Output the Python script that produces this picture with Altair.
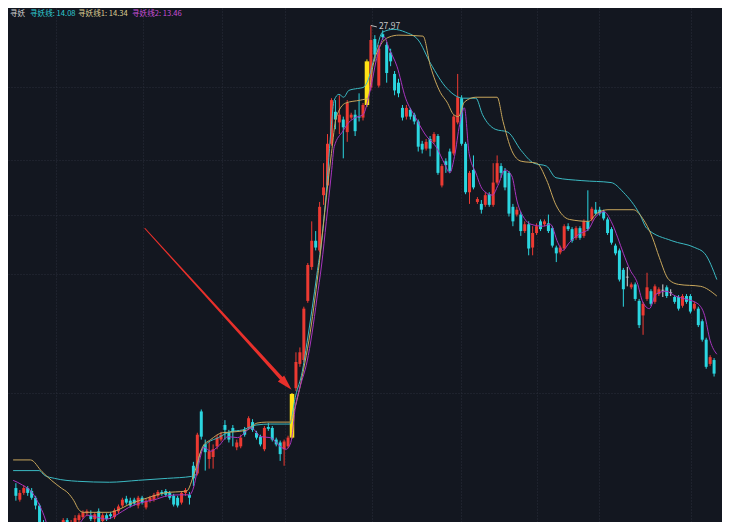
import altair as alt
import pandas as pd

# ---------------- candle data (price) ----------------
opens = [8.89, 8.41, 8.69, 8.89, 8.77, 8.49, 8.17, 7.49, 6.77, 6.89,
         6.61, 6.85, 7.25, 7.57, 7.29, 7.45, 7.57, 7.69, 7.85, 7.77,
         7.61, 7.93, 7.53, 7.77, 7.81, 7.69, 7.93, 8.17, 8.45, 8.37,
         8.41, 8.17, 8.49, 8.09, 8.37, 8.41, 8.57, 8.73, 8.77, 8.69,
         8.57, 8.49, 8.29, 8.69, 8.61, 9.81, 9.49, 12.05, 10.69, 10.09,
         10.17, 10.61, 10.89, 11.49, 11.17, 11.37, 10.57, 10.61, 11.29, 11.37,
         11.61, 11.17, 11.01, 10.49, 11.41, 11.37, 10.89, 10.77, 10.49, 10.61,
         10.97, 13.01, 14.01, 14.17, 16.61, 18.01, 19.09, 18.69, 20.97, 21.37,
         23.09, 24.41, 23.97, 24.09, 23.57, 24.17, 24.29, 24.21, 24.17, 24.69,
         25.41, 27.41, 25.49, 27.61, 27.17, 26.85, 25.97, 25.61, 24.57, 24.21,
         24.49, 24.29, 24.01, 23.09, 22.89, 23.29, 23.17, 23.41, 21.37, 22.37,
         22.77, 22.69, 23.97, 24.97, 23.09, 21.09, 22.01, 20.69, 20.61, 20.57,
         21.01, 20.57, 21.49, 22.17, 21.97, 21.89, 20.49, 20.17, 20.17, 19.49,
         19.77, 18.81, 19.41, 19.89, 19.77, 19.81, 19.61, 18.81, 18.61, 18.77,
         19.69, 19.57, 19.21, 19.61, 19.29, 19.89, 19.97, 20.37, 20.37, 20.29,
         19.97, 19.57, 18.89, 18.69, 17.89, 17.59, 17.17, 17.29, 16.61, 16.01,
         16.69, 17.01, 16.57, 16.89, 17.05, 17.17, 16.95, 16.77, 16.77, 16.41,
         16.81, 16.81, 16.29, 16.29, 15.77, 15.01, 14.01, 14.17]
closes = [8.57, 8.69, 8.89, 8.69, 8.49, 8.17, 7.49, 6.89, 7.01, 6.61,
          6.85, 7.17, 7.57, 7.33, 7.49, 7.65, 7.77, 7.89, 7.93, 7.61,
          7.81, 7.49, 7.77, 7.61, 7.73, 7.97, 8.13, 8.41, 8.29, 8.17,
          8.25, 8.49, 8.29, 8.37, 8.49, 8.61, 8.73, 8.65, 8.61, 8.49,
          8.21, 8.17, 8.69, 8.81, 8.49, 9.29, 11.09, 11.01, 10.37, 10.41,
          10.49, 10.97, 11.09, 11.29, 10.89, 11.21, 10.77, 10.97, 11.09, 11.77,
          11.29, 10.97, 10.69, 11.37, 11.33, 10.89, 10.69, 10.29, 10.81, 10.97,
          12.77, 14.09, 14.49, 16.29, 18.09, 19.09, 18.81, 20.49, 21.29, 23.09,
          24.89, 24.09, 24.29, 23.77, 24.77, 24.29, 23.61, 24.17, 24.69, 26.49,
          27.37, 26.77, 27.01, 27.49, 26.01, 26.49, 25.29, 25.17, 24.17, 24.57,
          24.21, 24.01, 22.97, 22.85, 23.17, 22.89, 23.49, 21.89, 22.17, 22.21,
          21.97, 24.21, 25.01, 23.09, 21.09, 21.89, 21.29, 20.81, 20.37, 20.97,
          20.57, 21.49, 22.29, 21.89, 21.29, 20.21, 19.89, 20.37, 19.49, 19.77,
          18.77, 19.41, 19.69, 19.57, 19.89, 19.49, 18.89, 18.57, 18.81, 19.69,
          19.57, 19.09, 19.61, 19.21, 19.89, 19.57, 20.41, 20.21, 20.21, 20.01,
          19.41, 19.01, 18.57, 17.49, 17.09, 17.59, 17.29, 16.69, 15.61, 16.49,
          17.17, 16.49, 17.21, 17.09, 17.05, 16.81, 16.95, 16.57, 16.29, 16.81,
          16.57, 16.17, 16.49, 15.61, 15.01, 13.89, 14.29, 13.61]
highs = [9.09, 8.81, 9.01, 8.97, 8.89, 8.57, 8.25, 7.57, 7.09, 6.97,
         6.93, 7.25, 7.65, 7.65, 7.57, 7.77, 7.85, 7.97, 8.01, 7.97,
         7.89, 8.05, 7.85, 7.85, 7.89, 8.05, 8.21, 8.49, 8.57, 8.49,
         8.49, 8.57, 8.57, 8.45, 8.57, 8.69, 8.81, 8.81, 8.85, 8.77,
         8.65, 8.57, 8.77, 8.89, 8.73, 9.97, 11.17, 12.13, 10.89, 10.81,
         10.69, 11.09, 11.21, 11.69, 11.29, 11.49, 10.89, 11.09, 11.41, 11.85,
         11.73, 11.25, 11.09, 11.45, 11.57, 11.45, 10.97, 10.85, 10.89, 11.05,
         12.81, 14.49, 14.69, 16.37, 18.17, 19.89, 19.49, 20.69, 22.29, 23.49,
         24.97, 24.89, 25.09, 24.21, 24.89, 24.37, 24.49, 25.17, 24.77, 26.57,
         27.97, 27.57, 27.17, 27.77, 27.29, 27.01, 26.09, 25.77, 24.69, 24.69,
         24.57, 24.37, 24.09, 23.21, 23.29, 23.41, 23.57, 23.49, 22.25, 22.49,
         22.89, 24.29, 25.97, 25.09, 23.17, 21.97, 22.61, 20.89, 20.77, 21.09,
         21.09, 22.29, 22.61, 22.29, 22.09, 21.97, 20.61, 20.49, 20.29, 19.89,
         19.89, 19.69, 19.81, 19.97, 19.97, 20.17, 19.69, 18.89, 18.89, 19.77,
         19.81, 19.65, 19.69, 19.69, 19.97, 21.17, 20.49, 20.69, 20.49, 20.37,
         20.05, 19.65, 18.97, 18.77, 17.97, 18.01, 17.37, 17.37, 16.69, 16.57,
         17.77, 17.09, 17.29, 17.17, 17.29, 17.25, 17.09, 16.85, 16.85, 16.89,
         16.89, 16.89, 16.57, 16.37, 15.85, 15.09, 14.37, 14.25]
lows = [8.37, 8.33, 8.61, 8.57, 8.41, 8.01, 7.37, 6.69, 6.61, 6.49,
        6.49, 6.73, 7.17, 7.21, 7.21, 7.37, 7.49, 7.61, 7.73, 7.53,
        7.49, 7.37, 7.45, 7.53, 7.61, 7.61, 7.85, 8.09, 8.21, 8.09,
        8.17, 8.05, 8.21, 8.01, 8.29, 8.33, 8.49, 8.57, 8.53, 8.41,
        8.13, 8.09, 8.21, 8.57, 8.21, 8.97, 9.41, 10.89, 9.61, 9.69,
        9.69, 10.49, 10.81, 10.89, 10.77, 10.61, 10.45, 10.53, 11.01, 11.29,
        11.21, 10.89, 10.61, 10.41, 11.25, 10.81, 10.61, 10.01, 9.81, 10.53,
        10.93, 12.89, 13.89, 14.09, 16.53, 17.89, 18.69, 18.61, 20.57, 21.29,
        23.01, 23.69, 23.49, 22.49, 23.17, 24.09, 23.41, 24.01, 24.05, 24.61,
        25.29, 26.49, 25.41, 27.37, 25.61, 26.29, 25.09, 25.01, 24.05, 24.09,
        24.09, 23.89, 22.77, 22.69, 22.81, 22.57, 23.09, 21.81, 21.29, 21.89,
        21.89, 22.61, 23.89, 23.01, 21.01, 20.61, 21.21, 20.61, 20.21, 20.49,
        20.49, 20.49, 21.41, 21.69, 21.17, 20.09, 19.69, 20.09, 19.29, 19.41,
        18.49, 18.49, 19.33, 19.49, 19.69, 19.41, 18.81, 18.21, 18.53, 18.69,
        19.49, 19.01, 19.13, 19.13, 19.21, 19.49, 19.89, 20.13, 20.13, 19.93,
        19.33, 18.93, 18.49, 17.41, 16.37, 17.21, 17.09, 16.61, 15.49, 15.21,
        16.61, 16.41, 16.49, 16.81, 16.77, 16.73, 16.81, 16.49, 16.21, 16.33,
        16.49, 16.09, 16.21, 15.53, 14.93, 13.81, 13.93, 13.49]
highlight_idx = [70, 89]          # yellow signal candles

# ---------------- indicator lines ----------------
cyan_i = [-0.7, 5.9, 7.3, 9.8, 15.6, 23.7, 31.1, 38.4, 44.5, 45.7, 46.5, 48.2, 51.3, 54.3, 57.5, 60.9,
          64.5, 69.4, 70.9, 72.6, 73.8, 75.1, 76.3, 77.5, 78.7, 80.0, 80.7, 81.9, 83.1, 84.4, 86.6,
          88.0, 89.0, 91.4, 92.9, 95.8, 98.8, 102.0, 105.1, 109.3, 113.4, 116.6, 118.3, 121.5, 124.7,
          128.1, 131.3, 134.5, 136.9, 143.5, 150.9, 154.0, 158.2, 159.9, 166.3, 172.1, 174.6, 177.7]
cyan_v = [9.61, 9.61, 9.41, 9.29, 9.17, 9.13, 9.21, 9.29, 9.37, 9.45, 10.21, 10.69, 10.97, 11.21, 11.29,
          11.49, 11.53, 11.53, 12.69, 13.69, 14.89, 16.29, 17.69, 19.09, 21.09, 23.89, 24.89, 25.13,
          25.01, 25.29, 25.37, 25.41, 25.61, 26.97, 27.69, 27.81, 27.69, 27.37, 26.41, 25.37, 24.97,
          24.97, 24.29, 23.69, 23.57, 22.81, 22.29, 22.17, 21.69, 21.57, 21.49, 21.09, 20.17, 19.61,
          19.09, 18.81, 18.57, 17.49]
orange_i = [-0.7, 3.7, 6.6, 9.0, 11.5, 13.2, 14.7, 15.9, 17.1, 23.7, 26.2, 28.6, 33.5, 37.7, 43.3, 45.2,
            47.4, 49.4, 52.3, 55.5, 58.7, 61.1, 63.6, 69.4, 70.7, 71.9, 73.3, 74.6, 75.8, 77.0, 78.7,
            80.0, 81.2, 83.6, 87.3, 89.2, 90.5, 92.2, 94.6, 97.1, 103.2, 105.1, 107.6, 109.3, 111.0,
            112.2, 113.7, 116.6, 122.0, 123.5, 125.7, 128.1, 132.0, 134.5, 136.9, 140.3, 145.2, 147.2,
            150.1, 156.5, 158.9, 161.4, 163.1, 165.5, 168.0, 173.6, 177.7]
orange_v = [10.05, 10.05, 9.57, 9.21, 8.89, 8.69, 8.37, 8.01, 7.89, 7.89, 8.01, 8.21, 8.49, 8.69, 8.77,
            9.49, 10.61, 10.89, 11.17, 11.21, 11.29, 11.57, 11.61, 11.61, 12.17, 12.97, 14.09, 15.29,
            16.69, 18.29, 20.89, 22.69, 24.17, 24.77, 24.89, 24.97, 26.29, 27.09, 27.49, 27.57, 27.53,
            26.29, 25.21, 24.81, 24.29, 24.21, 24.81, 25.01, 25.01, 24.01, 22.81, 22.37, 22.29, 21.61,
            20.57, 19.97, 19.89, 20.21, 20.37, 20.37, 20.01, 19.21, 18.41, 17.49, 17.29, 17.21, 16.81]
mag_i = [-0.7, 1.7, 4.2, 5.9, 7.1, 8.1, 10.3, 13.4, 16.4, 18.1, 20.5, 23.0, 25.4, 28.6, 31.8, 35.2,
         38.4, 41.6, 44.0, 45.0, 46.2, 47.7, 49.4, 51.3, 53.8, 56.2, 59.7, 62.1, 64.5, 67.0, 68.5,
         69.7, 70.9, 72.1, 73.8, 75.1, 76.3, 77.5, 78.7, 80.0, 80.7, 82.9, 84.4, 86.1, 88.0, 89.7,
         91.7, 93.4, 94.6, 96.6, 98.8, 101.2, 103.7, 106.8, 108.6, 110.0, 111.2, 112.5, 113.7, 114.9,
         116.6, 118.3, 120.8, 122.2, 124.0, 125.7, 127.1, 128.9, 130.6, 133.7, 135.5, 137.4, 138.6,
         140.3, 142.8, 145.2, 146.7, 149.1, 150.9, 152.6, 154.0, 155.7, 157.5, 158.9, 160.6, 162.3,
         164.8, 167.2, 169.7, 172.9, 174.6, 176.0, 177.7]
mag_v = [9.21, 9.01, 8.69, 8.21, 7.77, 7.29, 6.77, 6.89, 7.49, 7.77, 7.69, 7.61, 7.77, 8.09, 8.29, 8.41,
         8.57, 8.61, 8.61, 8.89, 9.77, 10.57, 10.41, 10.61, 11.01, 10.97, 11.37, 11.01, 10.97, 10.61,
         10.49, 10.77, 12.29, 13.09, 14.09, 15.29, 16.69, 18.09, 19.89, 21.89, 22.97, 23.61, 23.97,
         24.17, 24.29, 25.21, 26.77, 27.49, 27.01, 26.29, 24.97, 24.21, 23.49, 22.89, 22.29, 21.89,
         22.57, 23.89, 24.57, 22.69, 21.89, 21.21, 20.97, 21.37, 22.01, 21.77, 20.69, 20.01, 19.77,
         19.69, 19.77, 19.01, 18.69, 19.01, 19.37, 19.57, 20.01, 20.29, 19.89, 19.21, 18.57, 17.89,
         17.37, 16.57, 16.29, 16.89, 17.01, 16.81, 16.69, 16.49, 16.01, 14.97, 14.41]

# grid positions (candle index / price)
vgrid = [10.27, 32.27, 52.32, 68.22, 90.22, 112.96, 132.03, 147.92, 171.15]
hgrid = [25.45, 22.41, 20.17, 17.73, 12.81]

legend_items = ["寻妖", "寻妖线: 14.08", "寻妖线1: 14.34", "寻妖线2: 13.46"]
peak_label = "27.97"
peak_index = 90
peak_price = 27.97

# arrow annotation (candle index, price, stroke width)
arrow_i = [32.7, 67.6]
arrow_p = [19.60, 13.36]
arrow_w = [0.8, 3.6]
head_i = [68.55]
head_p = [13.175]

# ---------------- styles ----------------
RED = "#EC3A32"
CYAN = "#2BD6E0"
YELLOW = "#FFE214"
FLAT = "#D6D6D6"
BG = "#131720"
ARROW = "#E8302B"
LINE_CYAN = "#3BBAC3"
LINE_ORANGE = "#C9A75C"
LINE_MAG = "#A835BE"
FONT = "Noto Sans CJK SC"

n = len(opens)
kinds = []
for k in range(n):
    if k in highlight_idx:
        kinds.append("hl")
    elif closes[k] > opens[k]:
        kinds.append("up")
    elif closes[k] < opens[k]:
        kinds.append("down")
    else:
        kinds.append("flat")

candles = pd.DataFrame({"i": list(range(n)), "o": opens, "h": highs, "l": lows,
                        "c": closes, "k": kinds})

xs = alt.Scale(domain=[-0.73, 177.74], nice=False, zero=False)
ys = alt.Scale(domain=[7.49, 28.69], nice=False, zero=False)
kc = alt.Color("k:N", scale=alt.Scale(domain=["up", "down", "flat", "hl"],
                                      range=[RED, CYAN, FLAT, YELLOW]), legend=None)

xaxis = alt.Axis(values=vgrid, grid=True, gridColor="#2a2f3b", gridDash=[1, 2], gridWidth=1,
                 labels=False, ticks=False, domain=False)
yaxis = alt.Axis(values=hgrid, grid=True, gridColor="#2a2f3b", gridDash=[1, 2], gridWidth=1,
                 labels=False, ticks=False, domain=False)

wicks = alt.Chart(candles).mark_rule(strokeWidth=1, clip=True).encode(
    x=alt.X("i:Q", scale=xs, axis=xaxis, title=None),
    y=alt.Y("l:Q", scale=ys, axis=yaxis, title=None),
    y2="h:Q",
    color=kc,
)
bodies = alt.Chart(candles).transform_filter("datum.k != 'hl'").mark_bar(size=3, clip=True).encode(
    x="i:Q", y="o:Q", y2="c:Q", color=kc
)
hl_bodies = alt.Chart(candles).transform_filter("datum.k == 'hl'").mark_bar(size=4.5, clip=True).encode(
    x="i:Q", y="o:Q", y2="c:Q", color=kc
)
dojis = alt.Chart(candles).transform_filter("datum.k == 'flat'").mark_tick(
    orient="horizontal", size=3, thickness=1, clip=True
).encode(x="i:Q", y="o:Q", color=kc)


def ind_line(xi, yv, col):
    df = pd.DataFrame({"i": xi, "v": yv})
    return alt.Chart(df).mark_line(strokeWidth=1, clip=True, interpolate="monotone",
                                   color=col).encode(x="i:Q", y="v:Q")


line_cyan = ind_line(cyan_i, cyan_v, LINE_CYAN)
line_orange = ind_line(orange_i, orange_v, LINE_ORANGE)
line_mag = ind_line(mag_i, mag_v, LINE_MAG)

arrow_df = pd.DataFrame({"i": arrow_i, "p": arrow_p, "w": arrow_w})
shaft = alt.Chart(arrow_df).mark_trail(color=ARROW, clip=True).encode(
    x="i:Q", y="p:Q", size=alt.Size("w:Q", scale=None, legend=None)
)
head = alt.Chart(pd.DataFrame({"i": head_i, "p": head_p})).mark_point(
    shape="M0,-1L0.55,1L-0.55,1Z", filled=True, size=240, angle=137, color=ARROW, opacity=1
).encode(x="i:Q", y="p:Q")

peak_df = pd.DataFrame({"i": [peak_index], "p": [peak_price], "t": [peak_label],
                        "i2": [peak_index + 1.5], "p2": [peak_price - 0.06]})
peak_line = alt.Chart(peak_df).mark_rule(color="#bfbfbf", strokeWidth=1).encode(
    x="i:Q", x2="i2:Q", y="p:Q", y2="p2:Q")
peak_text = alt.Chart(peak_df).mark_text(align="left", baseline="middle", dx=8, dy=1,
                                         fontSize=8.5, color="#c8c8c8", font=FONT).encode(
    x="i:Q", y="p:Q", text="t:N")

legend_colors = ["#d2d2d2", "#2fcad2", "#dccd92", "#c64fd6"]
legend_x = [2, 22, 70, 124]
legend_layers = []
for txt, col, px in zip(legend_items, legend_colors, legend_x):
    legend_layers.append(
        alt.Chart(pd.DataFrame({"t": [txt]})).mark_text(
            align="left", baseline="middle", fontSize=7.6, color=col, font=FONT
        ).encode(x=alt.value(px), y=alt.value(6), text="t:N")
    )

chart = alt.layer(wicks, bodies, hl_bodies, dojis, line_cyan, line_orange, line_mag, shaft, head,
                  peak_line, peak_text, *legend_layers).properties(
    width=714, height=514, padding=0,
    autosize=alt.AutoSizeParams(type="fit", contains="padding"),
).configure(background=BG).configure_view(stroke="transparent")

chart.save("out.html", embed_options={"renderer": "svg", "actions": False})
